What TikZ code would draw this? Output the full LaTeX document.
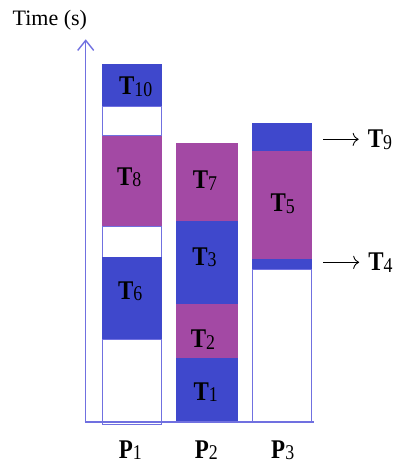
\documentclass[tikz,border=0pt]{standalone}
\usepackage{graphicx}
\usepackage{fontspec}
\setmainfont{Liberation Serif}
\usetikzlibrary{arrows.meta}
\definecolor{tblue}{RGB}{63,72,204}
\definecolor{tpurple}{RGB}{163,73,164}
\definecolor{tline}{RGB}{112,112,224}
\newcommand\tlab[2]{\scalebox{0.85}[1]{\fontsize{27}{27}\selectfont\bfseries #1}\raisebox{-1.5pt}{\scalebox{0.85}[1]{\fontsize{21}{21}\selectfont #2}}}
\begin{document}
\begin{tikzpicture}[x=1pt,y=-1pt,
  lab/.style={inner sep=0pt, anchor=base},
  bluebox/.style={fill=tblue},
  purplebox/.style={fill=tpurple},
  idlebox/.style={draw=tline, line width=1pt, fill=white},
  axisline/.style={draw=tline, line width=1.4pt},
  tagarrow/.style={draw=black, line width=0.9pt, -{To[length=6pt,width=13pt]}}]
\useasboundingbox (0,0) rectangle (398,465);
% P1
\fill[bluebox] (101.7,64.3) rectangle (162.3,106.7);
\draw[idlebox] (102.7,106.7) rectangle (161.3,135.7);
\fill[purplebox] (101.7,135.7) rectangle (162.3,226.7);
\draw[idlebox] (102.7,226.7) rectangle (161.3,257.3);
\fill[bluebox] (101.7,257.3) rectangle (162.3,339.3);
\draw[idlebox] (102.7,339.3) rectangle (161.3,424);
% P2
\fill[purplebox] (176,143.3) rectangle (238.3,220.7);
\fill[bluebox] (176,220.7) rectangle (238.3,304.3);
\fill[purplebox] (176,304.3) rectangle (238.3,357.7);
\fill[bluebox] (176,357.7) rectangle (238.3,422);
% P3
\fill[bluebox] (252.3,122.7) rectangle (312.3,151);
\fill[purplebox] (252.3,151) rectangle (312.3,259);
\fill[bluebox] (252.3,259) rectangle (312.3,269);
\draw[idlebox] (252.8,269) rectangle (311.8,422);
% axes
\coordinate (o) at (85.7,422);
\coordinate (ytop) at (85.7,39.3);
\coordinate (xend) at (314,422);
\draw[axisline, -{Straight Barb[length=10pt,width=16pt]}] (o) -- (ytop);
\draw[axisline] ([xshift=-1pt]o) -- (xend);
% labels
\node[anchor=base, inner sep=0pt, font=\fontsize{22}{22}\selectfont] (time) at (49.8,26) {Time (s)};
\node[lab] (t10) at (135.7,95) {\tlab{T}{10}};
\node[lab] (t8) at (129.3,185.3) {\tlab{T}{8}};
\node[lab] (t6) at (130.3,299) {\tlab{T}{6}};
\node[lab] (t7) at (205,188.7) {\tlab{T}{7}};
\node[lab] (t3) at (204.5,265) {\tlab{T}{3}};
\node[lab] (t2) at (203,347.7) {\tlab{T}{2}};
\node[lab] (t1) at (205.8,400) {\tlab{T}{1}};
\node[lab] (t5) at (282.7,211.7) {\tlab{T}{5}};
\node[lab] (t9) at (380,147.7) {\tlab{T}{9}};
\node[lab] (t4) at (380.5,270.7) {\tlab{T}{4}};
\node[lab] (p1) at (130.3,458.3) {\tlab{P}{1}};
\node[lab] (p2) at (206.3,458.3) {\tlab{P}{2}};
\node[lab] (p3) at (282.7,458.3) {\tlab{P}{3}};
% tag arrows
\coordinate (a9) at (323.3,139.3);
\coordinate (a4) at (323.3,262.3);
\draw[tagarrow, shorten >=9pt] (a9) -- (a9 -| t9.west);
\draw[tagarrow, shorten >=9pt] (a4) -- (a4 -| t4.west);
\end{tikzpicture}
\end{document}
